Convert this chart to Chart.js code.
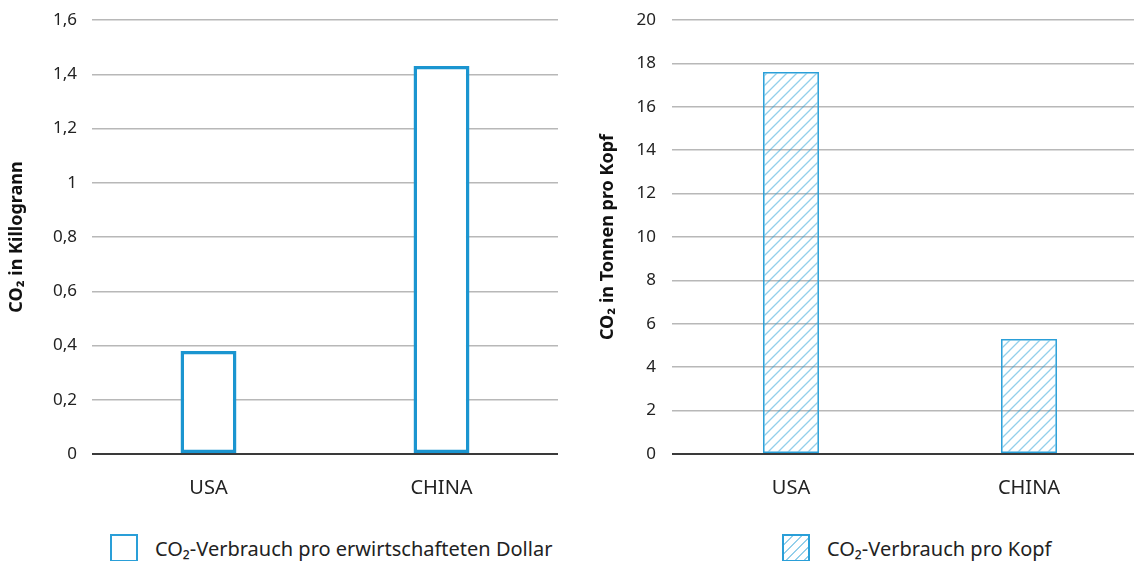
<!DOCTYPE html>
<html lang="de">
<head>
  <meta charset="UTF-8">
  <title>CO2 USA / China</title>
  <script src="https://cdn.jsdelivr.net/npm/chart.js"></script>
  <style>
    html, body { margin: 0; padding: 0; background: #fff; overflow: hidden; width: 1134px; height: 561px; }
    body { position: relative; font-family: 'Noto Sans', sans-serif; color: #222; }
    .box { position: absolute; }
    .legend { position: absolute; display: flex; align-items: center; font-size: 20px; height: 28px; white-space: nowrap; }
    .swatch { width: 28px; height: 28px; box-sizing: border-box; border: 2px solid #2a9fd8; margin-right: 17px; flex: none; }
    .swatch.hatch {
      background: repeating-linear-gradient(135deg, #fff 0 5px, rgba(40,160,215,0.5) 5px 6.5px);
    }
  </style>
</head>
<body>
  <div class="box" style="left:0;top:0;width:558px;height:500px;">
    <canvas id="chartLeft"></canvas>
  </div>
  <div class="box" style="left:580px;top:0;width:568px;height:500px;">
    <canvas id="chartRight"></canvas>
  </div>

  <div class="legend" style="left:110px;top:534px;">
    <div class="swatch"></div><span id="legLeft"></span>
  </div>
  <div class="legend" style="left:782px;top:534px;">
    <div class="swatch hatch"></div><span id="legRight"></span>
  </div>

<script>
  // Daten
  var laender = ['USA', 'CHINA'];
  var proDollar = [0.38, 1.43];      // kg CO2 pro erwirtschaftetem Dollar
  var proKopf = [17.6, 5.3];         // Tonnen CO2 pro Kopf
  var ticksLinks = ['0', '0,2', '0,4', '0,6', '0,8', '1', '1,2', '1,4', '1,6'];
  var ticksRechts = ['0', '2', '4', '6', '8', '10', '12', '14', '16', '18', '20'];
  var legendeLinks = 'CO₂-Verbrauch pro erwirtschafteten Dollar';
  var legendeRechts = 'CO₂-Verbrauch pro Kopf';

  document.getElementById('legLeft').textContent = legendeLinks;
  document.getElementById('legRight').textContent = legendeRechts;

  // schraffur
  function schraffur() {
    var c = document.createElement('canvas');
    c.width = 10; c.height = 10;
    var g = c.getContext('2d');
    g.strokeStyle = 'rgba(40,160,215,0.5)';
    g.lineWidth = 1.3;
    g.beginPath();
    g.moveTo(0, 10); g.lineTo(10, 0);
    g.moveTo(-5, 5); g.lineTo(5, -5);
    g.moveTo(5, 15); g.lineTo(15, 5);
    g.stroke();
    return g.createPattern(c, 'repeat');
  }

  function gitter(ctx) {
    return ctx.tick && ctx.tick.value === 0 ? '#3a3a3a' : '#b8b8b8';
  }
  function gitterBreite(ctx) {
    return ctx.tick && ctx.tick.value === 0 ? 2 : 1.5;
  }

  function optionen(max, step, labels, titel, titelPad, yBreite, tickPad) {
    return {
      responsive: true,
      maintainAspectRatio: false,
      animation: false,
      layout: { padding: { top: 20, right: 0, left: 0, bottom: 0 } },
      plugins: { legend: { display: false }, tooltip: { enabled: false } },
      scales: {
        x: {
          grid: { display: false },
          border: { display: false },
          ticks: { color: '#222', font: { family: 'Noto Sans', size: 20 }, padding: 14 },
          afterFit: function (s) { s.height = 46; s.paddingLeft = 0; s.paddingRight = 0; }
        },
        y: {
          min: 0, max: max,
          border: { display: false },
          grid: { color: gitter, lineWidth: gitterBreite, drawTicks: false },
          ticks: {
            stepSize: step,
            padding: tickPad,
            color: '#222',
            font: { family: 'Noto Sans', size: 17 },
            callback: function (v, i) { return labels[i]; }
          },
          title: {
            display: true,
            text: titel,
            color: '#111',
            padding: { top: titelPad, bottom: 0 },
            font: { family: 'Noto Sans', size: 18, weight: 'bold' }
          },
          afterFit: function (s) { s.width = yBreite; s.paddingTop = 0; s.paddingBottom = 0; }
        }
      }
    };
  }

  new Chart(document.getElementById('chartLeft'), {
    type: 'bar',
    data: {
      labels: laender,
      datasets: [{
        label: legendeLinks,
        data: proDollar,
        backgroundColor: '#ffffff',
        borderColor: '#1b95d0',
        borderWidth: 3.5,
        borderSkipped: false,
        categoryPercentage: 1,
        barPercentage: 0.24
      }]
    },
    options: optionen(1.6, 0.2, ticksLinks, 'CO₂ in Killogrann', 6, 92, 15)
  });

  new Chart(document.getElementById('chartRight'), {
    type: 'bar',
    data: {
      labels: laender,
      datasets: [{
        label: legendeRechts,
        data: proKopf,
        backgroundColor: schraffur(),
        borderColor: '#2a9fd8',
        borderWidth: 1.5,
        borderSkipped: false,
        categoryPercentage: 1,
        barPercentage: 0.235
      }]
    },
    options: optionen(20, 2, ticksRechts, 'CO₂ in Tonnen pro Kopf', 17, 92, 16)
  });
</script>
</body>
</html>
